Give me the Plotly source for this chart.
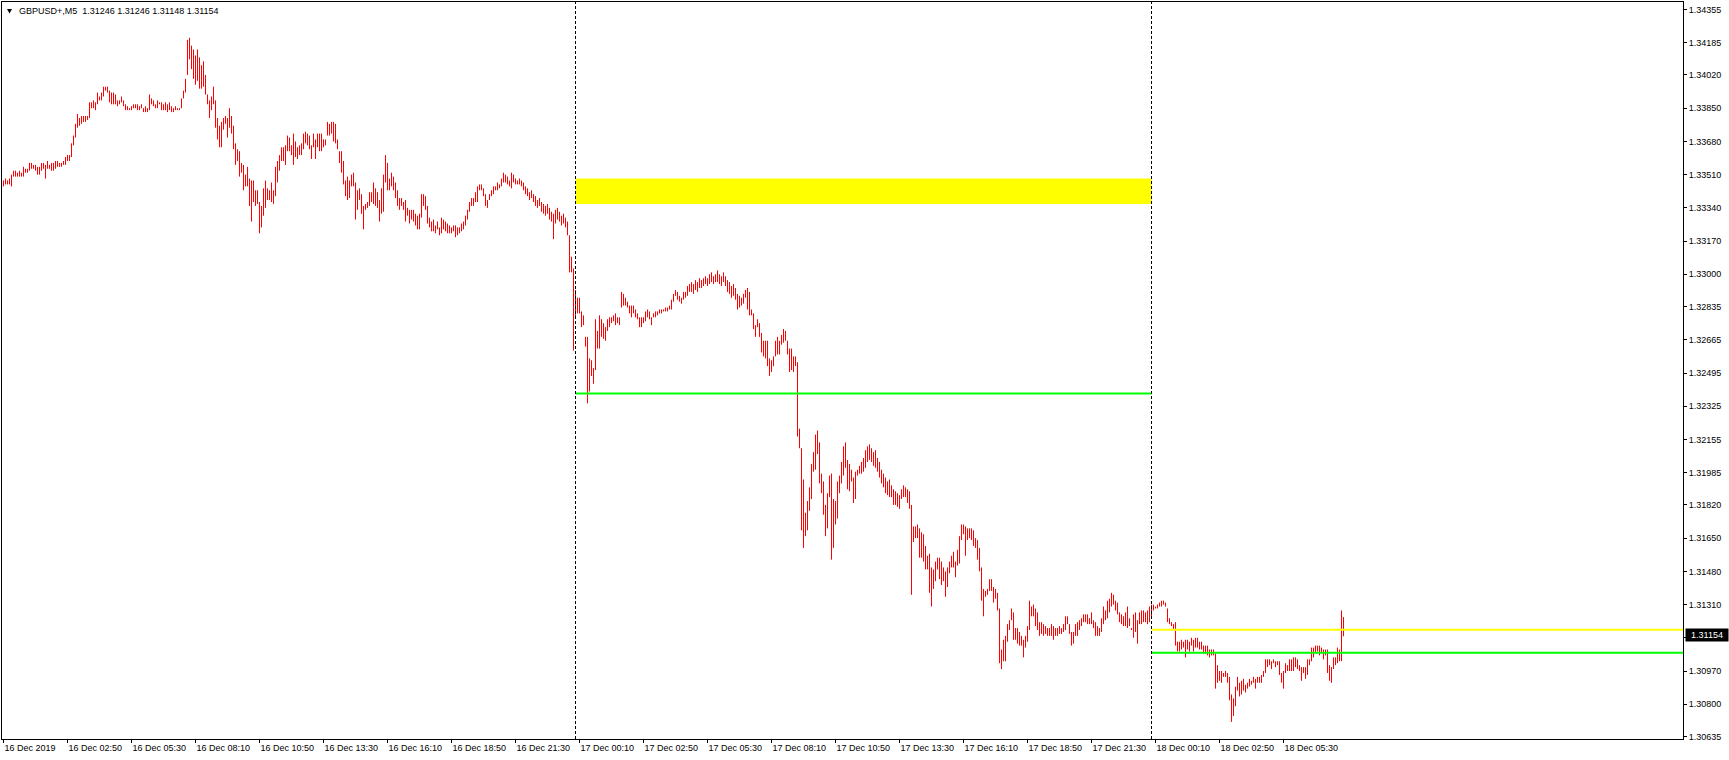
import plotly.graph_objects as go

# ---------------- data (GBPUSD+, M5, 16-18 Dec 2019) ----------------
FIRST_BAR = 2          # bar counter of the first visible bar (16 Dec 00:10), 0 = 16 Dec 00:00
SYMBOL_TEXT = "GBPUSD+,M5  1.31246 1.31246 1.31148 1.31154"
LAST_PRICE = 1.31154

high = [
    1.3348, 1.3349, 1.3348, 1.3349, 1.3351, 1.3353, 1.3353, 1.3352, 1.3353, 1.3352,
    1.3355, 1.3354, 1.3354, 1.3357, 1.3357, 1.3356, 1.3356, 1.3355, 1.3355, 1.3357, 1.3357, 1.3356,
    1.3358, 1.3356, 1.3357, 1.3357, 1.3358, 1.3358, 1.3357, 1.3357, 1.3358, 1.3360, 1.3361, 1.3361,
    1.3367, 1.3371, 1.3377, 1.3382, 1.3380, 1.3381, 1.3381, 1.3381, 1.3381, 1.3388, 1.3388, 1.3389,
    1.3388, 1.3393, 1.3391, 1.3393, 1.3396, 1.3396, 1.3396, 1.3394, 1.3393, 1.3393, 1.3392, 1.3389,
    1.3389, 1.3391, 1.3389, 1.3387, 1.3386, 1.3385, 1.3386, 1.3387, 1.3387, 1.3387, 1.3386, 1.3387,
    1.3385, 1.3386, 1.3385, 1.3392, 1.3390, 1.3389, 1.3387, 1.3389, 1.3388, 1.3388, 1.3387, 1.3388,
    1.3387, 1.3388, 1.3386, 1.3385, 1.3386, 1.3385, 1.3385, 1.3390, 1.3394, 1.3400, 1.3420, 1.3421,
    1.3417, 1.3415, 1.3412, 1.3415, 1.3411, 1.3407, 1.3409, 1.3402, 1.3392, 1.3389, 1.3391, 1.3396,
    1.3389, 1.3380, 1.3376, 1.3378, 1.3380, 1.3381, 1.3380, 1.3385, 1.3381, 1.3376, 1.3367, 1.3364,
    1.3363, 1.3357, 1.3356, 1.3351, 1.3355, 1.3349, 1.3348, 1.3348, 1.3343, 1.3343, 1.3337, 1.3335,
    1.3344, 1.3348, 1.3344, 1.3343, 1.3347, 1.3343, 1.3355, 1.3358, 1.3361, 1.3365, 1.3365, 1.3366,
    1.3371, 1.3370, 1.3366, 1.3372, 1.3368, 1.3365, 1.3366, 1.3367, 1.3372, 1.3373, 1.3372, 1.3371,
    1.3366, 1.3372, 1.3369, 1.3372, 1.3372, 1.3372, 1.3369, 1.3369, 1.3378, 1.3377, 1.3378, 1.3378,
    1.3377, 1.3369, 1.3363, 1.3363, 1.3358, 1.3348, 1.3350, 1.3348, 1.3351, 1.3352, 1.3347, 1.3343,
    1.3344, 1.3341, 1.3335, 1.3336, 1.3337, 1.3342, 1.3342, 1.3347, 1.3344, 1.3342, 1.3338, 1.3344,
    1.3351, 1.3361, 1.3357, 1.3349, 1.3352, 1.3350, 1.3347, 1.3343, 1.3339, 1.3339, 1.3337, 1.3338,
    1.3334, 1.3333, 1.3333, 1.3333, 1.3331, 1.3330, 1.3331, 1.3341, 1.3341, 1.3340, 1.3335, 1.3329,
    1.3327, 1.3328, 1.3325, 1.3327, 1.3324, 1.3329, 1.3328, 1.3327, 1.3326, 1.3325, 1.3324, 1.3325,
    1.3325, 1.3324, 1.3324, 1.3326, 1.3327, 1.3330, 1.3333, 1.3337, 1.3339, 1.3339, 1.3342, 1.3345,
    1.3346, 1.3346, 1.3344, 1.3341, 1.3338, 1.3341, 1.3343, 1.3345, 1.3345, 1.3347, 1.3346, 1.3349,
    1.3352, 1.3351, 1.3350, 1.3348, 1.3352, 1.3351, 1.3349, 1.3348, 1.3349, 1.3348, 1.3347, 1.3345,
    1.3344, 1.3342, 1.3343, 1.3341, 1.3340, 1.3338, 1.3339, 1.3337, 1.3336, 1.3335, 1.3336, 1.3334,
    1.3332, 1.3331, 1.3333, 1.3334, 1.3332, 1.3330, 1.3331, 1.3329, 1.3327, 1.3320, 1.3309, 1.3303,
    1.3292, 1.3288, 1.3288, 1.3281, 1.3279, 1.3268, 1.3268, 1.3257, 1.3256, 1.3252, 1.3277, 1.3271,
    1.3279, 1.3277, 1.3275, 1.3273, 1.3277, 1.3278, 1.3278, 1.3279, 1.3280, 1.3278, 1.3278, 1.3291,
    1.3290, 1.3288, 1.3286, 1.3284, 1.3284, 1.3284, 1.3282, 1.3280, 1.3278, 1.3278, 1.3278, 1.3281,
    1.3282, 1.3281, 1.3278, 1.3280, 1.3281, 1.3281, 1.3282, 1.3282, 1.3282, 1.3283, 1.3283, 1.3284,
    1.3287, 1.3290, 1.3292, 1.3291, 1.3289, 1.3288, 1.3291, 1.3291, 1.3294, 1.3295, 1.3296, 1.3295,
    1.3297, 1.3296, 1.3298, 1.3297, 1.3298, 1.3299, 1.3298, 1.3300, 1.3301, 1.3299, 1.3300, 1.3302,
    1.3300, 1.3299, 1.3301, 1.3299, 1.3297, 1.3296, 1.3294, 1.3295, 1.3293, 1.3290, 1.3289, 1.3288,
    1.3290, 1.3292, 1.3293, 1.3291, 1.3282, 1.3280, 1.3274, 1.3277, 1.3275, 1.3270, 1.3266, 1.3266,
    1.3266, 1.3257, 1.3256, 1.3258, 1.3266, 1.3268, 1.3266, 1.3269, 1.3272, 1.3271, 1.3266, 1.3262,
    1.3262, 1.3258, 1.3258, 1.3255, 1.3221, 1.3211, 1.3195, 1.3178, 1.3184, 1.3191, 1.3203, 1.3209,
    1.3218, 1.3220, 1.3214, 1.3198, 1.3194, 1.3182, 1.3188, 1.3197, 1.3198, 1.3185, 1.3184, 1.3194,
    1.3197, 1.3204, 1.3212, 1.3214, 1.3205, 1.3203, 1.3200, 1.3196, 1.3199, 1.3200, 1.3202, 1.3204,
    1.3206, 1.3210, 1.3212, 1.3213, 1.3211, 1.3209, 1.3210, 1.3206, 1.3204, 1.3200, 1.3198, 1.3196,
    1.3194, 1.3195, 1.3192, 1.3190, 1.3189, 1.3188, 1.3187, 1.3190, 1.3192, 1.3191, 1.3190, 1.3189,
    1.3182, 1.3171, 1.3171, 1.3172, 1.3170, 1.3168, 1.3167, 1.3161, 1.3156, 1.3157, 1.3150, 1.3149,
    1.3153, 1.3155, 1.3155, 1.3153, 1.3150, 1.3148, 1.3150, 1.3153, 1.3156, 1.3158, 1.3153, 1.3159,
    1.3166, 1.3172, 1.3172, 1.3171, 1.3170, 1.3170, 1.3170, 1.3169, 1.3165, 1.3164, 1.3160, 1.3150,
    1.3139, 1.3138, 1.3139, 1.3144, 1.3144, 1.3140, 1.3139, 1.3137, 1.3129, 1.3108, 1.3113, 1.3115,
    1.3121, 1.3123, 1.3129, 1.3127, 1.3119, 1.3119, 1.3117, 1.3115, 1.3113, 1.3115, 1.3120, 1.3133,
    1.3130, 1.3131, 1.3129, 1.3127, 1.3122, 1.3122, 1.3121, 1.3120, 1.3119, 1.3119, 1.3121, 1.3120,
    1.3119, 1.3119, 1.3120, 1.3119, 1.3121, 1.3125, 1.3125, 1.3121, 1.3117, 1.3117, 1.3121, 1.3122,
    1.3123, 1.3124, 1.3126, 1.3126, 1.3126, 1.3124, 1.3127, 1.3123, 1.3122, 1.3120, 1.3119, 1.3124,
    1.3130, 1.3128, 1.3133, 1.3134, 1.3137, 1.3136, 1.3133, 1.3132, 1.3127, 1.3126, 1.3125, 1.3127,
    1.3130, 1.3124, 1.3119, 1.3126, 1.3127, 1.3123, 1.3127, 1.3128, 1.3128, 1.3127, 1.3128, 1.3130,
    1.3131, 1.3131, 1.3130, 1.3131, 1.3132, 1.3133, 1.3133, 1.3132, 1.3129, 1.3124, 1.3122, 1.3121,
    1.3122, 1.3112, 1.3112, 1.3113, 1.3112, 1.3113, 1.3113, 1.3112, 1.3114, 1.3113, 1.3114, 1.3114,
    1.3112, 1.3112, 1.3110, 1.3110, 1.3110, 1.3108, 1.3108, 1.3108, 1.3106, 1.3100, 1.3097, 1.3097,
    1.3096, 1.3097, 1.3096, 1.3094, 1.3085, 1.3083, 1.3089, 1.3094, 1.3091, 1.3092, 1.3093, 1.3090,
    1.3091, 1.3093, 1.3092, 1.3094, 1.3093, 1.3094, 1.3094, 1.3095, 1.3097, 1.3103, 1.3103, 1.3103,
    1.3102, 1.3103, 1.3102, 1.3102, 1.3102, 1.3096, 1.3097, 1.3101, 1.3100, 1.3103, 1.3103, 1.3104,
    1.3104, 1.3103, 1.3100, 1.3099, 1.3099, 1.3099, 1.3103, 1.3103, 1.3109, 1.3109, 1.3110, 1.3110,
    1.3110, 1.3109, 1.3108, 1.3108, 1.3108, 1.3100, 1.3099, 1.3104, 1.3104, 1.3109, 1.3108, 1.3128,
    1.31246,
]

low = [
    1.3345, 1.3346, 1.3346, 1.3346, 1.3345, 1.3350, 1.3350, 1.3350, 1.3350, 1.3350,
    1.3350, 1.3352, 1.3352, 1.3353, 1.3354, 1.3354, 1.3353, 1.3351, 1.3351, 1.3353, 1.3354, 1.3349,
    1.3354, 1.3354, 1.3353, 1.3353, 1.3354, 1.3355, 1.3355, 1.3355, 1.3356, 1.3356, 1.3358, 1.3358,
    1.3360, 1.3366, 1.3370, 1.3375, 1.3376, 1.3377, 1.3378, 1.3378, 1.3379, 1.3380, 1.3385, 1.3385,
    1.3384, 1.3387, 1.3389, 1.3389, 1.3391, 1.3394, 1.3393, 1.3388, 1.3387, 1.3387, 1.3387, 1.3386,
    1.3387, 1.3388, 1.3386, 1.3384, 1.3384, 1.3384, 1.3384, 1.3385, 1.3385, 1.3384, 1.3384, 1.3385,
    1.3383, 1.3383, 1.3383, 1.3384, 1.3387, 1.3386, 1.3385, 1.3385, 1.3387, 1.3384, 1.3384, 1.3384,
    1.3383, 1.3384, 1.3383, 1.3383, 1.3384, 1.3384, 1.3384, 1.3385, 1.3390, 1.3393, 1.3402, 1.3410,
    1.3405, 1.3400, 1.3397, 1.3399, 1.3395, 1.3395, 1.3396, 1.3392, 1.3387, 1.3380, 1.3384, 1.3387,
    1.3375, 1.3369, 1.3365, 1.3365, 1.3374, 1.3377, 1.3370, 1.3375, 1.3372, 1.3364, 1.3356, 1.3358,
    1.3350, 1.3352, 1.3343, 1.3345, 1.3345, 1.3335, 1.3327, 1.3337, 1.3335, 1.3336, 1.3321, 1.3324,
    1.3330, 1.3334, 1.3338, 1.3338, 1.3337, 1.3336, 1.3340, 1.3347, 1.3353, 1.3358, 1.3358, 1.3356,
    1.3363, 1.3363, 1.3361, 1.3356, 1.3360, 1.3359, 1.3361, 1.3361, 1.3364, 1.3367, 1.3366, 1.3364,
    1.3359, 1.3365, 1.3359, 1.3365, 1.3363, 1.3363, 1.3365, 1.3366, 1.3371, 1.3371, 1.3372, 1.3368,
    1.3367, 1.3364, 1.3357, 1.3352, 1.3346, 1.3340, 1.3338, 1.3339, 1.3345, 1.3345, 1.3328, 1.3333,
    1.3338, 1.3331, 1.3323, 1.3333, 1.3334, 1.3335, 1.3337, 1.3336, 1.3335, 1.3334, 1.3327, 1.3331,
    1.3332, 1.3347, 1.3343, 1.3343, 1.3345, 1.3343, 1.3339, 1.3335, 1.3333, 1.3335, 1.3333, 1.3327,
    1.3330, 1.3326, 1.3328, 1.3327, 1.3325, 1.3323, 1.3323, 1.3329, 1.3335, 1.3333, 1.3326, 1.3324,
    1.3322, 1.3322, 1.3321, 1.3323, 1.3320, 1.3321, 1.3323, 1.3322, 1.3321, 1.3321, 1.3321, 1.3322,
    1.3319, 1.3320, 1.3321, 1.3322, 1.3323, 1.3325, 1.3328, 1.3332, 1.3335, 1.3335, 1.3337, 1.3337,
    1.3343, 1.3343, 1.3340, 1.3335, 1.3334, 1.3338, 1.3340, 1.3341, 1.3343, 1.3343, 1.3344, 1.3345,
    1.3347, 1.3347, 1.3346, 1.3345, 1.3344, 1.3347, 1.3346, 1.3346, 1.3346, 1.3345, 1.3343, 1.3341,
    1.3340, 1.3338, 1.3339, 1.3337, 1.3335, 1.3334, 1.3335, 1.3332, 1.3331, 1.3330, 1.3331, 1.3328,
    1.3327, 1.3318, 1.3326, 1.3328, 1.3327, 1.3325, 1.3326, 1.3324, 1.3320, 1.3301, 1.3301, 1.3261,
    1.3278, 1.3280, 1.3280, 1.3273, 1.3274, 1.3263, 1.3234, 1.3240, 1.3248, 1.3244, 1.3251, 1.3262,
    1.3262, 1.3268, 1.3267, 1.3266, 1.3271, 1.3273, 1.3275, 1.3276, 1.3274, 1.3275, 1.3274, 1.3283,
    1.3284, 1.3284, 1.3283, 1.3280, 1.3278, 1.3280, 1.3278, 1.3277, 1.3273, 1.3273, 1.3275, 1.3276,
    1.3278, 1.3277, 1.3274, 1.3278, 1.3278, 1.3279, 1.3280, 1.3280, 1.3281, 1.3281, 1.3281, 1.3282,
    1.3282, 1.3286, 1.3289, 1.3287, 1.3286, 1.3285, 1.3287, 1.3288, 1.3289, 1.3291, 1.3291, 1.3290,
    1.3292, 1.3291, 1.3293, 1.3293, 1.3294, 1.3295, 1.3294, 1.3295, 1.3296, 1.3295, 1.3296, 1.3296,
    1.3295, 1.3294, 1.3296, 1.3294, 1.3291, 1.3290, 1.3288, 1.3289, 1.3287, 1.3282, 1.3283, 1.3284,
    1.3285, 1.3288, 1.3282, 1.3279, 1.3279, 1.3272, 1.3268, 1.3273, 1.3268, 1.3260, 1.3258, 1.3257,
    1.3253, 1.3248, 1.3250, 1.3253, 1.3258, 1.3259, 1.3259, 1.3264, 1.3265, 1.3266, 1.3259, 1.3250,
    1.3251, 1.3250, 1.3253, 1.3217, 1.3211, 1.3169, 1.3160, 1.3166, 1.3169, 1.3179, 1.3185, 1.3199,
    1.3200, 1.3208, 1.3193, 1.3188, 1.3177, 1.3166, 1.3170, 1.3186, 1.3154, 1.3160, 1.3172, 1.3175,
    1.3188, 1.3193, 1.3197, 1.3201, 1.3190, 1.3189, 1.3194, 1.3183, 1.3185, 1.3197, 1.3198, 1.3198,
    1.3199, 1.3201, 1.3204, 1.3205, 1.3204, 1.3202, 1.3201, 1.3199, 1.3196, 1.3193, 1.3191, 1.3188,
    1.3187, 1.3186, 1.3186, 1.3182, 1.3182, 1.3181, 1.3180, 1.3185, 1.3186, 1.3186, 1.3183, 1.3180,
    1.3136, 1.3163, 1.3165, 1.3165, 1.3155, 1.3155, 1.3153, 1.3149, 1.3149, 1.3137, 1.3130, 1.3139,
    1.3143, 1.3149, 1.3144, 1.3141, 1.3143, 1.3135, 1.3140, 1.3147, 1.3150, 1.3150, 1.3145, 1.3151,
    1.3152, 1.3164, 1.3167, 1.3156, 1.3164, 1.3165, 1.3164, 1.3161, 1.3160, 1.3154, 1.3148, 1.3133,
    1.3125, 1.3135, 1.3136, 1.3138, 1.3138, 1.3132, 1.3134, 1.3128, 1.3101, 1.3098, 1.3102, 1.3102,
    1.3112, 1.3118, 1.3123, 1.3113, 1.3113, 1.3111, 1.3110, 1.3110, 1.3104, 1.3109, 1.3112, 1.3118,
    1.3125, 1.3125, 1.3120, 1.3118, 1.3115, 1.3116, 1.3115, 1.3116, 1.3115, 1.3115, 1.3115, 1.3113,
    1.3115, 1.3115, 1.3116, 1.3116, 1.3117, 1.3118, 1.3121, 1.3116, 1.3110, 1.3111, 1.3115, 1.3115,
    1.3118, 1.3120, 1.3122, 1.3122, 1.3121, 1.3121, 1.3121, 1.3119, 1.3115, 1.3115, 1.3115, 1.3117,
    1.3121, 1.3123, 1.3124, 1.3127, 1.3130, 1.3131, 1.3128, 1.3126, 1.3122, 1.3121, 1.3120, 1.3120,
    1.3119, 1.3120, 1.3118, 1.3114, 1.3117, 1.3111, 1.3121, 1.3121, 1.3122, 1.3122, 1.3121, 1.3122,
    1.3124, 1.3128, 1.3129, 1.3129, 1.3130, 1.3130, 1.3131, 1.3130, 1.3122, 1.3121, 1.3120, 1.3118,
    1.3110, 1.3107, 1.3107, 1.3108, 1.3109, 1.3104, 1.3108, 1.3107, 1.3110, 1.3107, 1.3109, 1.3109,
    1.3108, 1.3108, 1.3106, 1.3106, 1.3105, 1.3104, 1.3105, 1.3105, 1.3088, 1.3091, 1.3092, 1.3091,
    1.3094, 1.3094, 1.3091, 1.3082, 1.3071, 1.3074, 1.3079, 1.3087, 1.3084, 1.3085, 1.3087, 1.3086,
    1.3088, 1.3089, 1.3090, 1.3091, 1.3088, 1.3091, 1.3091, 1.3091, 1.3094, 1.3096, 1.3099, 1.3100,
    1.3098, 1.3101, 1.3099, 1.3100, 1.3095, 1.3091, 1.3088, 1.3096, 1.3097, 1.3097, 1.3097, 1.3097,
    1.3099, 1.3098, 1.3097, 1.3092, 1.3096, 1.3093, 1.3095, 1.3100, 1.3102, 1.3104, 1.3106, 1.3107,
    1.3105, 1.3106, 1.3103, 1.3105, 1.3096, 1.3092, 1.3091, 1.3098, 1.3100, 1.3101, 1.3102, 1.3102,
    1.31148,
]

# objects drawn on the chart
zone_bar_from, zone_bar_to = 288, 576          # 17 Dec 00:00 -> 18 Dec 00:00
zone_low, zone_high = 1.33360, 1.33490          # yellow rectangle
level_green_1 = 1.32390                         # green line on 17 Dec
level_yellow_2 = 1.31181                        # yellow line from 18 Dec
level_green_2 = 1.31064                         # green line from 18 Dec
separators = [288, 576]                         # day separators

# axis ticks
x_tick_bars = [2, 34, 66, 98, 130, 162, 194, 226, 258, 290, 322, 354, 386, 418, 450,
               482, 514, 546, 578, 610, 642]
x_tick_text = ["16 Dec 2019", "16 Dec 02:50", "16 Dec 05:30", "16 Dec 08:10", "16 Dec 10:50",
               "16 Dec 13:30", "16 Dec 16:10", "16 Dec 18:50", "16 Dec 21:30", "17 Dec 00:10",
               "17 Dec 02:50", "17 Dec 05:30", "17 Dec 08:10", "17 Dec 10:50", "17 Dec 13:30",
               "17 Dec 16:10", "17 Dec 18:50", "17 Dec 21:30", "18 Dec 00:10", "18 Dec 02:50",
               "18 Dec 05:30"]
y_tick_text = ["1.34355", "1.34185", "1.34020", "1.33850", "1.33680", "1.33510", "1.33340",
               "1.33170", "1.33000", "1.32835", "1.32665", "1.32495", "1.32325", "1.32155",
               "1.31985", "1.31820", "1.31650", "1.31480", "1.31310", "1.31140", "1.30970",
               "1.30800", "1.30635"]
y_tick_vals = [float(t) for t in y_tick_text]

# ---------------- figure ----------------
assert len(high) == len(low)
W, H = 1729, 760
ML, MR, MT, MB = 2, 46, 2, 21
X_RANGE = [1.25, 841.75]
Y_RANGE = [1.306222, 1.343934]
FONT = "Liberation Sans, Arial, sans-serif"

xs, ys = [], []
for k, (h, l) in enumerate(zip(high, low)):
    b = FIRST_BAR + k
    xs += [b, b, None]
    ys += [l, h, None]

fig = go.Figure()
fig.add_trace(go.Scatter(x=xs, y=ys, mode="lines",
                         line=dict(color="#ff0000", width=1),
                         hoverinfo="skip", showlegend=False))

shapes = []
shapes.append(dict(type="rect", xref="x", yref="y", x0=zone_bar_from, x1=zone_bar_to,
                   y0=zone_low, y1=zone_high, fillcolor="#ffff00",
                   line=dict(width=0), layer="below"))
shapes.append(dict(type="line", xref="x", yref="y", x0=zone_bar_from, x1=zone_bar_to,
                   y0=level_green_1, y1=level_green_1, line=dict(color="#00ff00", width=2)))
shapes.append(dict(type="line", xref="x", yref="y", x0=zone_bar_to, x1=X_RANGE[1],
                   y0=level_yellow_2, y1=level_yellow_2, line=dict(color="#ffff00", width=2)))
shapes.append(dict(type="line", xref="x", yref="y", x0=zone_bar_to, x1=X_RANGE[1],
                   y0=level_green_2, y1=level_green_2, line=dict(color="#00ff00", width=2)))
for s in separators:
    shapes.append(dict(type="line", xref="x", yref="paper", x0=s, x1=s, y0=0, y1=1,
                       line=dict(color="#000000", width=1, dash="3px,2px")))

pw = W - ML - MR
ph = H - MT - MB
def px(x):
    return (x - ML) / pw
def py(y):
    return 1 - (y - MT) / ph

# small drop-down triangle at top left
tri = "M {:.5f} {:.5f} L {:.5f} {:.5f} L {:.5f} {:.5f} Z".format(
    px(7), py(9), px(12), py(9), px(9.5), py(13.5))
shapes.append(dict(type="path", xref="paper", yref="paper", path=tri,
                   fillcolor="#000000", line=dict(color="#000000", width=0)))

annotations = [
    dict(text=SYMBOL_TEXT, xref="paper", yref="paper", x=px(17), y=py(11.5),
         xanchor="left", yanchor="middle", showarrow=False,
         font=dict(family=FONT, size=9, color="#000000")),
    dict(text="{:.5f}".format(LAST_PRICE), xref="paper", yref="y", x=1, y=LAST_PRICE,
         xshift=2, xanchor="left", yanchor="middle", showarrow=False,
         bgcolor="#000000", borderpad=1, width=40, height=10, align="center",
         font=dict(family=FONT, size=9, color="#ffffff")),
]

fig.update_layout(
    width=W, height=H,
    margin=dict(l=ML, r=MR, t=MT, b=MB, pad=0, autoexpand=False),
    paper_bgcolor="#ffffff", plot_bgcolor="#ffffff",
    showlegend=False, hovermode=False,
    font=dict(family=FONT, size=9, color="#000000"),
    shapes=shapes, annotations=annotations,
    xaxis=dict(range=X_RANGE, tickmode="array", tickvals=x_tick_bars, ticktext=x_tick_text,
               ticks="outside", ticklen=3, tickcolor="#000000", tickwidth=1,
               ticklabelposition="outside right",
               showline=True, linecolor="#000000", linewidth=1, mirror=True,
               showgrid=False, zeroline=False, fixedrange=True, automargin=False,
               tickfont=dict(family=FONT, size=9, color="#000000")),
    yaxis=dict(range=Y_RANGE, side="right", tickmode="array", tickvals=y_tick_vals,
               ticktext=y_tick_text, ticks="outside", ticklen=3, tickcolor="#000000",
               tickwidth=1, showline=True, linecolor="#000000", linewidth=1, mirror=True,
               showgrid=False, zeroline=False, fixedrange=True, automargin=False,
               tickfont=dict(family=FONT, size=9, color="#000000")),
)

fig.write_html("out.html", config={"displayModeBar": False},
               post_script="document.body.style.margin='0';document.body.style.padding='0';")
